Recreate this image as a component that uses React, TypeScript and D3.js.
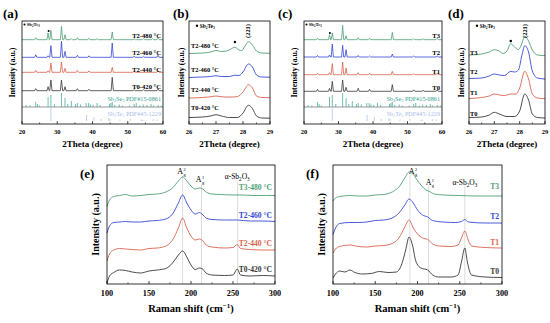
import React from 'react';
import * as d3 from 'd3';

const FONT = "'Liberation Serif', 'Times New Roman', serif";
const C_GREEN = '#4f9f76';
const C_BLUE = '#3448d6';
const C_RED = '#d8634d';
const C_BLACK = '#383838';
const C_TEAL = '#33a08c';
const C_LBLUE = '#a8bce8';

// ---------- XRD wide scans (a), (c): [2theta, peak height] ----------
const xrdABases = [84.3, 66.7, 51.7, 33.3];
const xrdA_T2_480 = [[23.9, 2], [27.4, 6.7], [28.2, 9.3], [31.2, 13.3], [32.2, 5], [34.0, 1], [35.7, 2], [39.0, 1.5], [41.3, 1], [45.6, 7.7], [51.8, 1], [54.5, 1.2], [57.0, 1], [58.6, 1.5]];
const xrdA_T2_460 = [[23.9, 2.5], [27.4, 1.5], [28.2, 11.7], [31.2, 16], [32.2, 6], [35.7, 2], [39.0, 1.5], [45.6, 14.3], [51.8, 1.2], [54.5, 1], [58.6, 2]];
const xrdA_T2_440 = [[23.9, 2], [27.4, 1.5], [28.2, 9.3], [31.2, 10.3], [32.2, 4], [35.7, 2], [39.0, 1.5], [45.6, 5], [51.8, 1], [58.6, 1.5]];
const xrdA_T0_420 = [[23.9, 2], [27.4, 4], [28.2, 10.7], [31.2, 10.7], [32.2, 4], [35.7, 2], [39.0, 1.5], [45.6, 13.3], [51.8, 1], [54.5, 1], [58.6, 1.5]];

const xrdCBases = [84.3, 67, 49.3, 32.7];
const xrdC_T3 = [[23.9, 1.5], [27.4, 5], [28.2, 6.7], [31.2, 14.3], [32.2, 4], [35.7, 2], [39.0, 1.5], [45.6, 7.3], [51.8, 1], [54.5, 1], [58.6, 1.5]];
const xrdC_T2 = [[23.9, 1.5], [27.4, 2], [28.2, 13], [31.2, 11.7], [32.2, 7.3], [35.7, 1.5], [39.0, 1], [45.6, 3], [51.8, 1], [58.6, 1]];
const xrdC_T1 = [[23.9, 1.5], [27.4, 2], [28.2, 11], [31.2, 12.7], [32.2, 6.7], [35.7, 2], [39.0, 1.5], [45.6, 3.3], [51.8, 1], [58.6, 1.5]];
const xrdC_T0 = [[23.9, 2], [27.4, 3], [28.2, 10], [31.2, 11.3], [32.2, 4], [35.7, 3], [39.0, 2], [45.6, 6.7], [51.8, 1.5], [54.5, 1], [58.6, 1.5]];

const xrdALabels = ['T2-480 °C', 'T2-460 °C', 'T2-440 °C', 'T0-420 °C'];
const xrdCLabels = ['T3', 'T2', 'T1', 'T0'];
const labelLevelsAC_A = [35.3, 53, 69.7, 87];
const labelLevelsAC_C = [35.3, 53, 71.3, 87.3];

// reference patterns
const refSb2Se3Base = 17;
const refSb2Se3 = [[21.2, 2], [22.3, 1.5], [23.9, 5], [24.4, 3], [25.0, 1.5], [27.4, 10], [28.2, 12], [29.2, 3], [31.2, 14], [32.2, 9], [33.0, 3], [34.0, 6], [35.2, 3], [35.7, 4], [36.6, 2.5], [38.2, 4], [38.9, 4], [39.4, 2.5], [40.2, 2], [41.3, 4], [42.2, 2], [44.8, 3], [45.2, 4], [45.6, 5], [46.3, 2], [47.6, 2.5], [48.5, 1.5], [50.5, 1.5], [51.8, 3], [52.4, 4], [53.4, 1.5], [54.4, 2.5], [55.5, 2], [56.6, 3], [57.3, 1.5], [58.6, 2], [59.5, 1.5]];
const refSb2Te3Base = 3;
const refSb2Te3 = [[28.2, 13], [38.3, 6], [40.4, 4], [42.4, 2], [44.6, 3], [45.0, 2], [47.8, 1.5], [50.7, 2], [53.9, 1.5], [54.3, 1], [57.2, 2], [58.3, 1.5]];

// ---------- XRD zoom (b), (d): [2theta, intensity] ----------
const xrdB_T2_480 = [[26.0, 70.5], [26.5, 71], [26.8, 72], [27.0, 73.5], [27.2, 72.5], [27.4, 73], [27.55, 75], [27.7, 76.7], [27.85, 74], [27.95, 73.5], [28.05, 77], [28.2, 82.3], [28.35, 79], [28.5, 73], [28.7, 71], [29.0, 70.7]];
const xrdB_T2_460 = [[26.0, 46.5], [26.5, 47], [26.8, 47.5], [27.0, 48.3], [27.2, 47.5], [27.5, 47.5], [27.7, 48.8], [27.85, 48.5], [28.0, 52], [28.2, 60], [28.35, 57], [28.5, 49], [28.7, 47], [29.0, 46.8]];
const xrdB_T2_440 = [[26.0, 26], [26.5, 26.5], [26.8, 27.2], [27.0, 28], [27.3, 27], [27.6, 27], [27.8, 27.5], [28.0, 32], [28.2, 39.3], [28.35, 36], [28.5, 28], [28.7, 26.5], [29.0, 26.3]];
const xrdB_T0_420 = [[26.0, 6.5], [26.5, 7], [26.8, 8], [27.0, 9.3], [27.2, 8], [27.5, 6.5], [27.8, 6.5], [28.0, 11], [28.2, 18.7], [28.35, 15.5], [28.5, 8], [28.7, 6], [29.0, 5.8]];
const xrdBLabelLevels = [46, 70, 90, 108];

const xrdD_T3 = [[26.0, 69], [26.5, 70], [26.8, 72], [27.0, 74.3], [27.15, 73.5], [27.35, 70.5], [27.5, 73], [27.65, 80.3], [27.8, 77], [27.95, 74.5], [28.05, 78], [28.2, 87.7], [28.35, 83], [28.5, 74], [28.7, 69], [29.0, 68.3]];
const xrdD_T2 = [[26.0, 45.5], [26.5, 46], [26.8, 48], [27.0, 50], [27.2, 49], [27.4, 48.5], [27.65, 52.7], [27.8, 52], [27.95, 54], [28.1, 70], [28.2, 78.3], [28.35, 72], [28.5, 53], [28.7, 46], [29.0, 45]];
const xrdD_T1 = [[26.0, 25.5], [26.5, 26.5], [26.8, 28], [27.0, 30], [27.2, 29], [27.4, 28.5], [27.65, 30], [27.85, 30], [28.0, 36], [28.2, 52.7], [28.35, 45], [28.5, 30], [28.7, 26], [29.0, 25.3]];
const xrdD_T0 = [[26.0, 6.5], [26.5, 7], [26.8, 9], [27.0, 11.7], [27.2, 10], [27.5, 7.5], [27.8, 7.5], [28.0, 13], [28.2, 30], [28.35, 24], [28.5, 10], [28.7, 6.5], [29.0, 6]];
const xrdDLabelLevels = [52.3, 71.3, 93, 114];

// ---------- Raman (e), (f): [shift, intensity] ----------
const ramanE_T3_480 = [[100, 77.7], [103, 84], [108, 87.5], [115, 88.5], [122, 89.5], [130, 88], [140, 88.5], [150, 89.5], [160, 90], [170, 92], [178, 96], [185, 103], [190, 107], [195, 103], [200, 98], [205, 95], [210, 96], [213, 95.5], [218, 92], [225, 90], [235, 89.5], [250, 89], [260, 89], [275, 88.5], [290, 88.5], [300, 88.5]];
const ramanE_T2_460 = [[100, 51], [103, 58], [108, 61.5], [115, 62], [122, 62.5], [130, 62], [140, 62], [150, 63], [160, 63.5], [170, 65], [178, 70], [185, 81], [190, 89], [195, 81], [200, 74], [205, 70], [210, 71.5], [213, 70], [218, 66], [225, 64.5], [240, 64], [255, 64], [270, 63], [285, 63], [300, 62.5]];
const ramanE_T2_440 = [[100, 23], [103, 30], [108, 34], [115, 35.5], [122, 35], [130, 34.5], [140, 34], [150, 35.5], [160, 36], [170, 38], [178, 44], [185, 56], [190, 66], [195, 56], [200, 48], [205, 44], [210, 45], [213, 44], [218, 39], [225, 37], [240, 36], [250, 36.5], [255, 39.5], [259, 35.5], [270, 34.5], [285, 34], [300, 34]];
const ramanE_T0_420 = [[100, 1], [103, 8], [108, 11.5], [115, 14], [122, 13.5], [130, 12], [140, 11], [150, 13], [160, 14], [170, 15.5], [178, 21], [185, 29], [190, 33], [195, 27], [200, 19], [205, 14.5], [210, 16], [213, 15.5], [218, 11], [225, 9], [240, 8.5], [250, 9], [255, 15], [259, 9], [270, 8], [285, 8.5], [300, 8]];
const ramanELabels = ['T3-480 °C', 'T2-460 °C', 'T2-440 °C', 'T0-420 °C'];
const ramanELabelLevels = [92, 64, 36, 10];

const ramanF_T3 = [[100, 83], [103, 86], [108, 87.5], [120, 88.5], [130, 88], [140, 88], [150, 89], [160, 89.5], [170, 92], [178, 97], [185, 106], [190, 112], [194, 111], [198, 106], [205, 98], [210, 94], [213, 93], [220, 90], [230, 89], [250, 88.5], [270, 88], [300, 88]];
const ramanF_T2 = [[100, 49.5], [103, 56], [108, 60.5], [120, 61.5], [130, 61.5], [140, 62], [150, 63.5], [160, 64], [170, 66], [178, 71], [185, 79], [190, 85], [195, 81], [200, 74], [206, 69], [212, 67], [218, 63.5], [230, 62], [245, 61.5], [252, 62.5], [256, 64.5], [260, 62], [280, 61], [300, 61]];
const ramanF_T1 = [[100, 31], [103, 35], [108, 37.5], [120, 39], [130, 37.5], [140, 37], [150, 38], [160, 38.5], [170, 40.5], [178, 46], [185, 57], [190, 64], [195, 56], [200, 50], [206, 46], [212, 44.5], [218, 40], [225, 38], [240, 37.5], [248, 39], [252, 46], [256, 53], [260, 44], [264, 38], [280, 36.5], [300, 36]];
const ramanF_T0 = [[100, 6], [103, 10], [108, 13], [114, 12], [120, 14], [126, 11.5], [135, 10], [145, 10.5], [155, 12.5], [165, 11.5], [175, 12], [181, 19], [186, 34], [190, 47], [194, 39], [198, 23], [204, 16], [212, 14], [218, 9], [225, 7], [240, 7], [248, 9], [252, 22], [256, 36], [259, 22], [264, 9], [280, 7], [300, 6.5]];
const ramanFLabels = ['T3', 'T2', 'T1', 'T0'];
const ramanFLabelLevels = [93, 63, 37, 8];

const seriesColors = [C_GREEN, C_BLUE, C_RED, C_BLACK];

type Pt = number[];
type Frame = { x0: number; x1: number; y0: number; y1: number };

const PA: Frame = { x0: 22, x1: 163, y0: 21, y1: 124 };
const PB: Frame = { x0: 189, x1: 270, y0: 21, y1: 124 };
const PC: Frame = { x0: 304, x1: 442, y0: 21, y1: 124 };
const PD: Frame = { x0: 469, x1: 545, y0: 21, y1: 124 };
const PE: Frame = { x0: 107, x1: 275, y0: 165, y1: 284 };
const PF: Frame = { x0: 333, x1: 502, y0: 165, y1: 284 };

function spikes(base: number, peaks: Pt[], xmin: number, xmax: number, w: number): Pt[] {
  const pts: Pt[] = [[xmin, base]];
  [...peaks].sort((a, b) => a[0] - b[0]).forEach(([p, h]) => {
    pts.push([p - w, base], [p, base + h], [p + w, base]);
  });
  pts.push([xmax, base]);
  return pts;
}

function Axes({ f, xs, majors, minors, fs, title, titleY, tickY, ylabelX, ylabelFs, titleFs }: any) {
  return (
    <g>
      {minors.map((t: number, i: number) => (
        <line key={'m' + i} x1={xs(t)} x2={xs(t)} y1={f.y1} y2={f.y1 - 1.6} stroke="#000" strokeWidth={0.6} />
      ))}
      {majors.map((t: number, i: number) => (
        <g key={'M' + i}>
          <line x1={xs(t)} x2={xs(t)} y1={f.y1} y2={f.y1 - 3} stroke="#000" strokeWidth={0.7} />
          <text x={xs(t)} y={tickY} fontSize={fs} fontWeight="bold" textAnchor="middle" fontFamily={FONT}>{t}</text>
        </g>
      ))}
      <rect x={f.x0} y={f.y0} width={f.x1 - f.x0} height={f.y1 - f.y0} fill="none" stroke="#000" strokeWidth={0.8} />
      <text x={(f.x0 + f.x1) / 2} y={titleY} fontSize={titleFs} fontWeight="bold" textAnchor="middle" fontFamily={FONT}>{title}</text>
      <text transform={`translate(${ylabelX},${(f.y0 + f.y1) / 2}) rotate(-90)`} fontSize={ylabelFs} fontWeight="bold" textAnchor="middle" dominantBaseline="central" fontFamily={FONT}>Intensity (a.u.)</text>
    </g>
  );
}

function Chem({ x, y, parts, fs, fill = '#000', anchor = 'start', weight = 'normal' }: any) {
  let prevSub = false;
  return (
    <text x={x} y={y} fontSize={fs} fill={fill} textAnchor={anchor} fontFamily={FONT} fontWeight={weight}>
      {parts.map(([t, sub]: [string, boolean], i: number) => {
        const dy = sub && !prevSub ? fs * 0.28 : !sub && prevSub ? -fs * 0.28 : 0;
        prevSub = sub;
        return (
          <tspan key={i} dy={dy} fontSize={sub ? fs * 0.68 : fs}>{t}</tspan>
        );
      })}
    </text>
  );
}

const SB2TE3: [string, boolean][] = [['Sb', false], ['2', true], ['Te', false], ['3', true]];

function Legend({ x, y, fs }: any) {
  return (
    <g>
      <circle cx={x} cy={y - fs * 0.33} r={fs * 0.22} fill="#000" />
      <Chem x={x + fs * 0.5} y={y} parts={SB2TE3} fs={fs} weight="bold" />
    </g>
  );
}

function WidePanel({ f, bases, curves, labels, levels, labelFs, star }: any) {
  const xs = d3.scaleLinear().domain([20, 60]).range([f.x0, f.x1]);
  const ys = d3.scaleLinear().domain([0, 103]).range([f.y1, f.y0]);
  const line = d3.line<Pt>().x((d) => xs(d[0])).y((d) => ys(d[1]));
  return (
    <g>
      {curves.map((c: Pt[], i: number) => (
        <path key={i} d={line(spikes(bases[i], c, 20, 60, 0.32)) || ''} fill="none" stroke={seriesColors[i]} strokeWidth={0.8} />
      ))}
      {labels.map((l: string, i: number) => (
        <text key={i} x={f.x1 - 2} y={levels[i] + 2.4} fontSize={labelFs} fontWeight="bold" textAnchor="end" fontFamily={FONT}>{l}</text>
      ))}
      <line x1={f.x0} x2={f.x1} y1={ys(refSb2Se3Base)} y2={ys(refSb2Se3Base)} stroke="#555" strokeWidth={0.6} />
      {refSb2Se3.map(([p, h], i) => (
        <line key={'s' + i} x1={xs(p)} x2={xs(p)} y1={ys(refSb2Se3Base)} y2={ys(refSb2Se3Base + h)} stroke={C_TEAL} strokeWidth={0.7} />
      ))}
      {refSb2Te3.map(([p, h], i) => (
        <line key={'t' + i} x1={xs(p)} x2={xs(p)} y1={ys(refSb2Te3Base)} y2={ys(refSb2Te3Base + h)} stroke={C_LBLUE} strokeWidth={0.7} />
      ))}
      <Chem x={f.x1 - 2} y={100.5} parts={[['Sb', false], ['2', true], ['Se', false], ['3', true], [' PDF#15-0861', false]]} fs={6.2} fill={C_TEAL} anchor="end" />
      <Chem x={f.x1 - 2} y={115.5} parts={[['Sb', false], ['2', true], ['Te', false], ['3', true], [' PDF#45-1229', false]]} fs={6.2} fill={C_LBLUE} anchor="end" />
      <circle cx={xs(star[0])} cy={ys(star[1])} r={1} fill="#000" />
      <Legend x={f.x0 + 2.5} y={f.y0 + 5} fs={4.6} />
      <Axes f={f} xs={xs} majors={[20, 30, 40, 50, 60]} minors={[25, 35, 45, 55]} fs={6.5} tickY={134} title="2Theta (degree)" titleY={147} titleFs={9} ylabelX={f.x0 - 10} ylabelFs={8} />
    </g>
  );
}

function ZoomPanel({ f, curves, labels, levels, star, labelX }: any) {
  const xs = d3.scaleLinear().domain([26, 29]).range([f.x0, f.x1]);
  const ys = d3.scaleLinear().domain([0, 103]).range([f.y1, f.y0]);
  const line = d3.line<Pt>().x((d) => xs(d[0])).y((d) => ys(d[1])).curve(d3.curveMonotoneX);
  return (
    <g>
      {curves.map((c: Pt[], i: number) => (
        <path key={i} d={line(c) || ''} fill="none" stroke={seriesColors[i]} strokeWidth={0.9} />
      ))}
      {labels.map((l: string, i: number) => (
        <text key={i} x={labelX} y={levels[i] + 2.3} fontSize={6.4} fontWeight="bold" fontFamily={FONT}>{l}</text>
      ))}
      <circle cx={xs(star[0])} cy={ys(star[1])} r={1.2} fill="#000" />
      <text transform={`translate(${xs(28.2) + 2},${f.y0 + 10}) rotate(-90)`} fontSize={6.4} fontWeight="bold" textAnchor="middle" fontFamily={FONT}>(221)</text>
      <Legend x={f.x0 + 8} y={f.y0 + 6.5} fs={5.4} />
      <Axes f={f} xs={xs} majors={[26, 27, 28, 29]} minors={[26.5, 27.5, 28.5]} fs={6.5} tickY={134} title="2Theta (degree)" titleY={147} titleFs={9} ylabelX={f.x0 - 8} ylabelFs={8} />
    </g>
  );
}

function AgLabel({ x, y, sup, fs }: any) {
  return (
    <g fontFamily={FONT}>
      <text x={x - fs * 0.3} y={y} fontSize={fs} textAnchor="middle">A</text>
      <text x={x + fs * 0.1} y={y + fs * 0.2} fontSize={fs * 0.55}>g</text>
      <text x={x + fs * 0.1} y={y - fs * 0.42} fontSize={fs * 0.55}>{sup}</text>
    </g>
  );
}

function RamanPanel({ f, curves, labels, levels, guides, ag2, ag1, oxide }: any) {
  const xs = d3.scaleLinear().domain([100, 300]).range([f.x0, f.x1]);
  const ys = d3.scaleLinear().domain([0, 119]).range([f.y1, f.y0]);
  const line = d3.line<Pt>().x((d) => xs(d[0])).y((d) => ys(d[1])).curve(d3.curveMonotoneX);
  return (
    <g>
      {guides.map(([g, top]: number[], i: number) => (
        <line key={'g' + i} x1={xs(g)} x2={xs(g)} y1={top} y2={f.y1} stroke="#c4c4c4" strokeWidth={0.6} />
      ))}
      {curves.map((c: Pt[], i: number) => (
        <path key={i} d={line(c) || ''} fill="none" stroke={seriesColors[i]} strokeWidth={0.9} />
      ))}
      {labels.map((l: string, i: number) => (
        <text key={i} x={f.x1 - 3} y={ys(levels[i]) - 2} fontSize={7.6} fontWeight="bold" textAnchor="end" fill={seriesColors[i]} fontFamily={FONT}>{l}</text>
      ))}
      <AgLabel x={xs(ag2[0])} y={ag2[1]} sup="2" fs={8} />
      <AgLabel x={xs(ag1[0])} y={ag1[1]} sup="1" fs={8} />
      <Chem x={xs(oxide[0])} y={oxide[1]} parts={[['α-Sb', false], ['2', true], ['O', false], ['3', true]]} fs={7.5} anchor="middle" />
      <Axes f={f} xs={xs} majors={[100, 150, 200, 250, 300]} minors={[125, 175, 225, 275]} fs={8.2} tickY={296} title={<>Raman shift (cm<tspan dy={-4} fontSize={7}>−1</tspan><tspan dy={4}>)</tspan></>} titleY={312} titleFs={10.5} ylabelX={f.x0 - 12} ylabelFs={10} />
    </g>
  );
}

function PanelTag({ x, y, t }: any) {
  return <text x={x} y={y} fontSize={13} fontWeight="bold" fontFamily={FONT}>{t}</text>;
}

export default function App() {
  return (
    <svg width={550} height={323} viewBox="0 0 550 323" style={{ position: 'absolute', left: 0, top: 0, background: '#fff' }}>
      <rect width={550} height={323} fill="#fff" />
      <PanelTag x={3} y={18} t="(a)" />
      <PanelTag x={173} y={18} t="(b)" />
      <PanelTag x={278} y={18} t="(c)" />
      <PanelTag x={448} y={18} t="(d)" />
      <PanelTag x={80} y={178} t="(e)" />
      <PanelTag x={306} y={178} t="(f)" />

      <WidePanel f={PA} bases={xrdABases} curves={[xrdA_T2_480, xrdA_T2_460, xrdA_T2_440, xrdA_T0_420]} labels={xrdALabels} levels={labelLevelsAC_A} labelFs={6.6} star={[27.55, 93]} />
      <WidePanel f={PC} bases={xrdCBases} curves={[xrdC_T3, xrdC_T2, xrdC_T1, xrdC_T0]} labels={xrdCLabels} levels={labelLevelsAC_C} labelFs={6.6} star={[27.5, 91]} />
      <ZoomPanel f={PB} curves={[xrdB_T2_480, xrdB_T2_460, xrdB_T2_440, xrdB_T0_420]} labels={xrdALabels} levels={xrdBLabelLevels} star={[27.7, 82]} labelX={191} />
      <ZoomPanel f={PD} curves={[xrdD_T3, xrdD_T2, xrdD_T1, xrdD_T0]} labels={xrdCLabels} levels={xrdDLabelLevels} star={[27.65, 83]} labelX={470} />

      <RamanPanel f={PE} curves={[ramanE_T3_480, ramanE_T2_460, ramanE_T2_440, ramanE_T0_420]} labels={ramanELabels} levels={ramanELabelLevels}
        guides={[[190, 176], [212.5, 184], [255.5, 182]]} ag2={[190, 174]} ag1={[212, 182]} oxide={[255, 179]} />
      <RamanPanel f={PF} curves={[ramanF_T3, ramanF_T2, ramanF_T1, ramanF_T0]} labels={ramanFLabels} levels={ramanFLabelLevels}
        guides={[[191, 176], [213, 186], [256, 186]]} ag2={[196, 174]} ag1={[216, 185]} oxide={[256, 185]} />
    </svg>
  );
}
